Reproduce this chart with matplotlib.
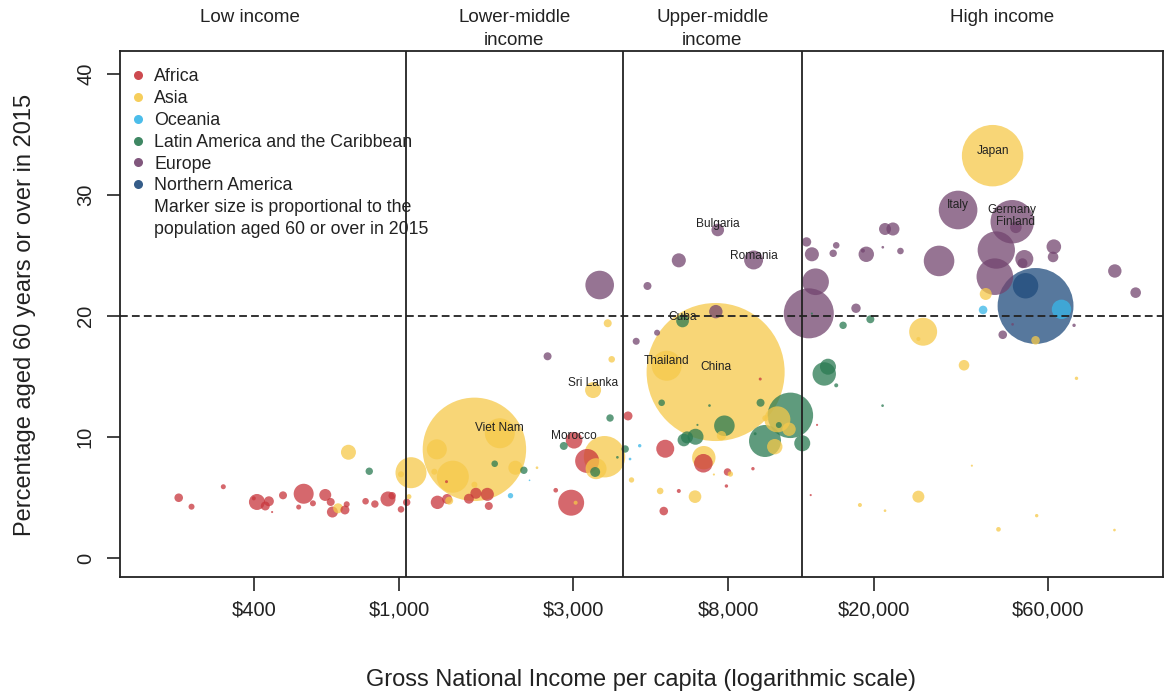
import matplotlib
matplotlib.use('Agg')
import matplotlib.pyplot as plt
import matplotlib.transforms as mtransforms
from matplotlib.lines import Line2D
import numpy as np

plt.rcParams['font.family'] = ['Liberation Sans', 'DejaVu Sans']

# gross national income per capita (US$), % aged 60+, population aged 60+ (millions)
africa_gni = [249, 270, 330, 408, 400, 430, 440, 449, 481, 548, 531, 581, 628, 650, 657, 711, 719, 810, 859, 933,
              958, 1013, 1050, 1275, 1355, 1555, 1625, 1747, 1763, 1350, 2690, 3020, 3280, 2965, 4245, 5370, 6830,
              7955, 7900, 5850, 5320, 9340, 9780, 14000, 13450]
africa_pct = [4.98, 4.24, 5.89, 4.63, 4.93, 4.30, 4.69, 3.80, 5.18, 5.31, 4.21, 4.52, 5.21, 4.63, 3.80, 3.97, 4.44,
              4.69, 4.46, 4.88, 5.15, 4.02, 4.60, 4.60, 4.88, 4.90, 5.35, 5.26, 4.30, 6.31, 5.60, 9.73, 8.02, 4.57,
              11.74, 9.03, 7.83, 7.11, 5.95, 5.54, 3.88, 7.38, 14.79, 11.0, 5.2]
africa_pop = [0.82, 0.40, 0.28, 2.85, 0.18, 0.90, 1.1, 0.05, 0.71, 4.45, 0.28, 0.40, 1.6, 0.71, 1.35, 0.90, 0.40,
              0.48, 0.61, 2.5, 0.61, 0.48, 0.61, 2.0, 1.1, 1.1, 1.35, 1.9, 0.71, 0.10, 0.24, 3.07, 6.4, 7.5, 0.90,
              3.6, 3.85, 0.61, 0.13, 0.18, 0.82, 0.13, 0.10, 0.05, 0.05]

asia_gni = [681, 727, 1065, 1079, 1610, 1890, 1270, 1405, 2085, 1250, 1610, 1373, 2390, 3405, 3735, 3830, 3660,
            3470, 4340, 3050, 5420, 7380, 6850, 7660, 8100, 5200, 6480, 7300, 10900, 11730, 10720, 10100, 27350,
            26540, 35400, 42400, 40600, 55600, 72000, 37200, 26540, 18350, 21500, 44000, 56000, 91500, 1013]
asia_pct = [4.11, 8.74, 5.07, 7.05, 8.98, 10.31, 8.98, 6.72, 7.46, 7.13, 6.06, 4.74, 7.46, 13.88, 19.40, 16.42,
            8.37, 7.38, 6.45, 4.57, 15.89, 15.37, 8.29, 10.11, 6.94, 5.54, 5.07, 6.9, 11.46, 10.64, 9.20, 11.55,
            18.70, 18.1, 15.93, 33.25, 21.82, 17.99, 14.85, 7.63, 5.07, 4.38, 3.91, 2.37, 3.50, 2.31, 6.92]
asia_pop = [1.1, 2.5, 0.28, 10.7, 119, 10.0, 4.45, 11.4, 2.2, 0.40, 0.40, 0.71, 0.08, 2.85, 0.71, 0.48, 19.1, 4.9,
            0.32, 0.18, 10.0, 212, 6.1, 0.98, 0.32, 0.48, 1.77, 0.05, 7.5, 2.0, 2.64, 0.40, 8.7, 0.18, 1.25, 42,
            1.6, 0.82, 0.13, 0.05, 1.6, 0.18, 0.08, 0.24, 0.13, 0.08, 0.40]

oceania_gni = [2022, 4570, 4300, 2280, 39930, 65500]
oceania_pct = [5.15, 9.28, 8.18, 6.42, 20.50, 20.55]
oceania_pop = [0.32, 0.13, 0.08, 0.03, 0.82, 4.2]

latam_gni = [829, 1830, 2200, 2830, 3450, 3790, 4170, 3970, 5250, 5990, 6040, 6160, 6500, 7800, 7100, 6580, 9800,
             9470, 10080, 11830, 11000, 12750, 14650, 15000, 15800, 16500, 19600, 21170, 13550]
latam_pct = [7.17, 7.79, 7.25, 9.26, 7.11, 11.57, 9.01, 8.32, 12.83, 19.59, 9.75, 9.97, 10.02, 10.93, 12.6, 11.0,
             12.83, 10.27, 9.67, 11.79, 10.99, 9.48, 15.21, 15.81, 14.27, 19.23, 19.73, 12.59, 20.2]
latam_pop = [0.61, 0.48, 0.61, 0.71, 1.1, 0.61, 0.61, 0.08, 0.48, 1.8, 1.77, 1.6, 2.85, 4.7, 0.08, 0.05, 0.71,
             0.10, 11.4, 23, 0.40, 2.85, 6.1, 2.85, 0.18, 0.61, 0.71, 0.08, 0.05]

europe_gni = [3550, 4800, 5100, 4470, 2555, 7480, 9380, 5850, 7390, 13100, 13550, 15800, 15500, 13870, 13290,
              17900, 21500, 22600, 19100, 18700, 21200, 23700, 30240, 34100, 43400, 43000, 48000, 49100, 51800,
              51200, 62400, 62100, 91700, 104600, 45200, 48100, 70900]
europe_pct = [22.56, 22.48, 18.62, 17.91, 16.67, 27.11, 24.63, 24.60, 20.36, 26.12, 25.10, 25.84, 25.18, 22.83,
              20.22, 20.64, 27.19, 27.19, 25.10, 25.4, 25.68, 25.37, 24.55, 28.76, 25.45, 23.25, 27.79, 27.33,
              24.71, 24.36, 25.73, 24.88, 23.72, 21.93, 18.45, 19.31, 19.23]
europe_pop = [9.1, 0.71, 0.40, 0.55, 0.71, 1.77, 4.0, 2.2, 2.0, 0.98, 2.2, 0.48, 0.61, 7.9, 27.8, 0.98, 1.6, 1.9,
              2.64, 0.18, 0.08, 0.48, 10.4, 16.6, 15.5, 14.9, 21, 1.5, 3.6, 1.1, 2.37, 1.25, 2.0, 1.25, 0.82, 0.08,
              0.13]

namerica_gni = [55600, 52200]
namerica_pct = [20.83, 22.50]
namerica_pop = [64, 7.2]

regions = ['Africa', 'Asia', 'Oceania', 'Latin America and the Caribbean', 'Europe', 'Northern America']
region_colors = ['#c8363c', '#f6c94a', '#38b6e8', '#2a7a52', '#73456f', '#1f4b7c']
region_data = [(africa_gni, africa_pct, africa_pop), (asia_gni, asia_pct, asia_pop),
               (oceania_gni, oceania_pct, oceania_pop), (latam_gni, latam_pct, latam_pop),
               (europe_gni, europe_pct, europe_pop), (namerica_gni, namerica_pct, namerica_pop)]

label_names = ['Japan', 'Italy', 'Germany', 'Finland', 'Bulgaria', 'Romania', 'Cuba', 'Thailand', 'China',
               'Sri Lanka', 'Viet Nam', 'Morocco']
label_gni = [42400, 34100, 48000, 49100, 7480, 9380, 5990, 5420, 7380, 3405, 1890, 3020]
label_pct = [33.6, 29.15, 28.8, 27.75, 27.6, 24.95, 19.9, 16.25, 15.75, 14.45, 10.75, 10.1]

income_groups = ['Low income', 'Lower-middle\nincome', 'Upper-middle\nincome', 'High income']
income_label_x = [390, 2070, 7230, 45000]
thresholds = [1045, 4125, 12736]

xticks = [400, 1000, 3000, 8000, 20000, 60000]
xtick_labels = ['$400', '$1,000', '$3,000', '$8,000', '$20,000', '$60,000']
yticks = [0, 10, 20, 30, 40]

ink = '#222222'

fig = plt.figure(figsize=(11.65, 6.95), dpi=100)
ax = fig.add_axes([120 / 1165, 118 / 695, 1043 / 1165, 526 / 695])

gni = np.concatenate([np.array(d[0], float) for d in region_data])
pct = np.concatenate([np.array(d[1], float) for d in region_data])
pop = np.concatenate([np.array(d[2], float) for d in region_data])
cols = np.concatenate([[c] * len(d[0]) for c, d in zip(region_colors, region_data)])
order = np.argsort(-pop, kind='stable')  # big bubbles underneath

ax.scatter(gni[order], pct[order], s=pop[order] * 46.6, c=cols[order], alpha=0.75, linewidths=0, zorder=2)

for t in thresholds:
    ax.axvline(t, color=ink, lw=1.3, zorder=3)
ax.axhline(20, color=ink, lw=1.3, dashes=(4.3, 2.3), zorder=3)

for name, x, y in zip(label_names, label_gni, label_pct):
    ax.text(x, y, name, ha='center', va='center', fontsize=8.6, color=ink, zorder=4)

ax.set_xscale('log')
ax.set_xlim(171.9, 124300)
ax.set_ylim(-1.57, 41.9)
ax.set_xticks(xticks)
ax.set_xticklabels(xtick_labels)
ax.xaxis.set_minor_locator(matplotlib.ticker.NullLocator())
ax.set_yticks(yticks)
ax.set_yticklabels([str(v) for v in yticks], rotation=90, va='center')
ax.tick_params(axis='x', length=10, width=1.2, color=ink, pad=7, labelsize=14.5, labelcolor=ink)
ax.tick_params(axis='y', length=9.5, width=1.2, color=ink, pad=8.5, labelsize=14.5, labelcolor=ink)
for sp in ax.spines.values():
    sp.set_linewidth(1.3)
    sp.set_color(ink)

ax.set_xlabel('Gross National Income per capita (logarithmic scale)', fontsize=17, color=ink, va='center')
ax.xaxis.set_label_coords(0.5, -0.196)
ax.set_ylabel('Percentage aged 60 years or over in 2015', fontsize=17, color=ink, va='center')
ax.yaxis.set_label_coords(-0.0915, 0.498)

trans = mtransforms.blended_transform_factory(ax.transData, fig.transFigure)
for lab, x in zip(income_groups, income_label_x):
    y = 1 - 17 / 695 if '\n' not in lab else 1 - 29 / 695
    ax.text(x, y, lab, transform=trans, ha='center', va='center', fontsize=13.5, color=ink,
            linespacing=1.4)

handles = [Line2D([0], [0], marker='o', ls='none', markersize=6.5, markerfacecolor=c, markeredgewidth=0,
                  alpha=0.9) for c in region_colors]
handles += [Line2D([0], [0], ls='none'), Line2D([0], [0], ls='none')]
labels = regions + ['Marker size is proportional to the', 'population aged 60 or over in 2015']
ax.legend(handles, labels, loc='upper left', bbox_to_anchor=(0.0105, 0.967), frameon=False, fontsize=12.8,
          handlelength=0.8, handletextpad=0.5, labelspacing=0.27, borderaxespad=0, borderpad=0,
          labelcolor=ink)

fig.savefig('out.png', dpi=100)
